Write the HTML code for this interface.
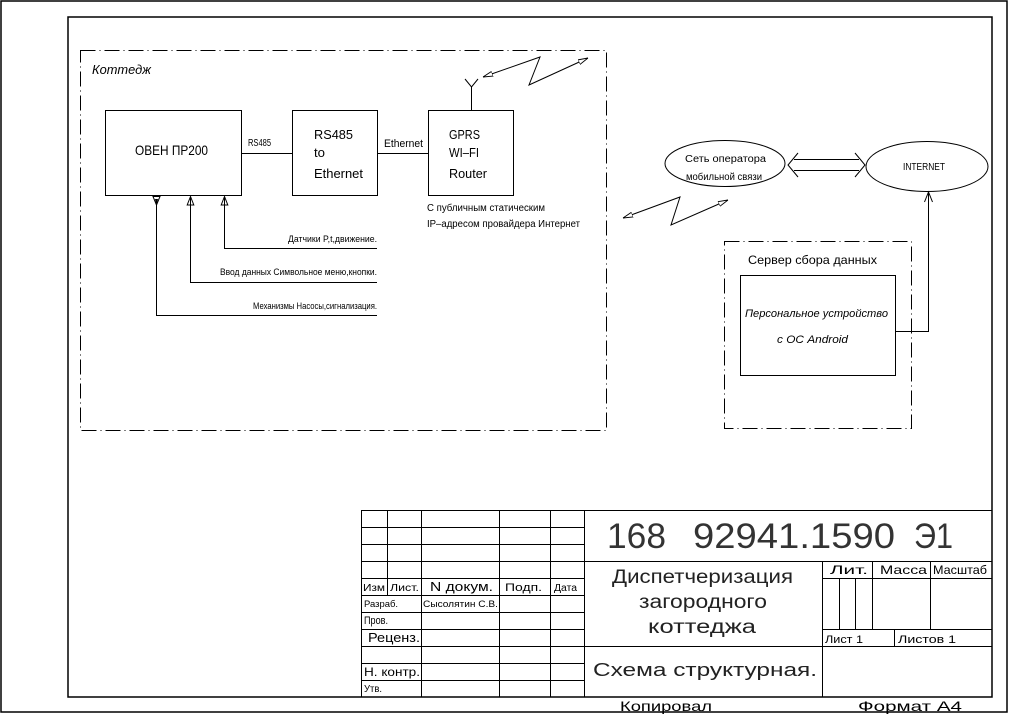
<!DOCTYPE html>
<html>
<head>
<meta charset="utf-8">
<style>
html,body{margin:0;padding:0;background:#fff;}
svg{display:block;}
text{font-family:"Liberation Sans","Noto Sans CJK SC",sans-serif;fill:#000;}
</style>
</head>
<body>
<svg width="1009" height="714" viewBox="0 0 1009 714" xmlns="http://www.w3.org/2000/svg">
<defs>
<marker id="a" viewBox="0 0 10 6" refX="10" refY="3" markerWidth="10" markerHeight="6" markerUnits="userSpaceOnUse" orient="auto-start-reverse">
<path d="M0,0.5 L10,3 L0,5.5 Z" fill="#fff" stroke="#000" stroke-width="0.9"/>
</marker>
</defs>
<rect width="1009" height="714" fill="#fff"/>

<!-- frames -->
<rect x="1" y="1" width="1006" height="711" fill="none" stroke="#000" stroke-width="1.5"/>
<rect x="68" y="17" width="924" height="680" fill="none" stroke="#000" stroke-width="1.5"/>

<!-- dash-dot boxes -->
<g fill="none" stroke="#000" stroke-width="1" stroke-dasharray="15 4 1 4">
<rect x="80.5" y="50.5" width="526" height="380"/>
<rect x="724.5" y="241.5" width="187" height="187"/>
</g>

<text x="92" y="74" font-size="13" font-style="italic" textLength="59" lengthAdjust="spacingAndGlyphs">Коттедж</text>

<!-- boxes -->
<g fill="none" stroke="#000" stroke-width="1">
<rect x="105.5" y="110.5" width="136" height="85"/>
<rect x="292.5" y="110.5" width="85" height="85"/>
<rect x="428.5" y="110.5" width="85" height="85"/>
<rect x="740.5" y="275.5" width="155" height="100"/>
<line x1="241" y1="153.5" x2="292" y2="153.5"/>
<line x1="377" y1="153.5" x2="428" y2="153.5"/>
<!-- antenna -->
<line x1="471.5" y1="110" x2="471.5" y2="87"/>
<polyline points="465,79 471.5,87 478,79"/>
<!-- zigzags -->
<polyline points="483,77 540,57 529,85 588,58" marker-start="url(#a)" marker-end="url(#a)"/>
<polyline points="623,218 680,197 671,225 728,200" marker-start="url(#a)" marker-end="url(#a)"/>
<!-- ellipses -->
<ellipse cx="725" cy="163.5" rx="60" ry="23"/>
<ellipse cx="927" cy="166.5" rx="61" ry="25"/>
<!-- double arrow -->
<line x1="794" y1="159.5" x2="859" y2="159.5"/>
<line x1="794" y1="170.5" x2="859" y2="170.5"/>
<polyline points="798,153 788,165 798,177"/>
<polyline points="855,153 865,165 855,177"/>
<!-- server to internet -->
<polyline points="896,331.5 928.5,331.5 928.5,192"/>
<polyline points="924.5,202 928.5,192 932.5,202"/>
<!-- inputs/outputs of OVEN -->
<polyline points="224.5,197 224.5,248.5 377,248.5"/>
<polyline points="190.5,197 190.5,282.5 377,282.5"/>
<polyline points="156.5,197 156.5,315.5 377,315.5"/>
</g>
<g fill="#fff" stroke="#000" stroke-width="1">
<path d="M224.5,196.5 L221.2,205 L227.8,205 Z"/>
<path d="M190.5,196.5 L187.2,205 L193.8,205 Z"/>
<path d="M153,196.5 L160,196.5 L156.5,205 Z"/>
</g>
<line x1="224.5" y1="197" x2="224.5" y2="205" stroke="#000"/>
<line x1="190.5" y1="197" x2="190.5" y2="205" stroke="#000"/>
<path d="M155,199 L158,199 L156.5,205 Z" fill="#000"/>

<!-- box texts -->
<text x="135" y="155" font-size="14" textLength="73" lengthAdjust="spacingAndGlyphs">ОВЕН ПР200</text>
<text x="314" y="139" font-size="13" textLength="39" lengthAdjust="spacingAndGlyphs">RS485</text>
<text x="314" y="157" font-size="13" textLength="11" lengthAdjust="spacingAndGlyphs">to</text>
<text x="314" y="178" font-size="13" textLength="49" lengthAdjust="spacingAndGlyphs">Ethernet</text>
<text x="449" y="139" font-size="13" textLength="31" lengthAdjust="spacingAndGlyphs">GPRS</text>
<text x="449" y="157" font-size="13" textLength="30" lengthAdjust="spacingAndGlyphs">WI–FI</text>
<text x="449" y="178" font-size="13" textLength="38" lengthAdjust="spacingAndGlyphs">Router</text>
<text x="248" y="146" font-size="10" textLength="23" lengthAdjust="spacingAndGlyphs">RS485</text>
<text x="384" y="147" font-size="11" textLength="39" lengthAdjust="spacingAndGlyphs">Ethernet</text>
<text x="427" y="211" font-size="10" textLength="118" lengthAdjust="spacingAndGlyphs">С публичным статическим</text>
<text x="427" y="227" font-size="10" textLength="153" lengthAdjust="spacingAndGlyphs">IP–адресом провайдера Интернет</text>

<text x="288" y="242" font-size="9" textLength="89" lengthAdjust="spacingAndGlyphs">Датчики  P,t,движение.</text>
<text x="220" y="275" font-size="9" textLength="157" lengthAdjust="spacingAndGlyphs">Ввод данных  Символьное меню,кнопки.</text>
<text x="253" y="309" font-size="9" textLength="124" lengthAdjust="spacingAndGlyphs">Механизмы  Насосы,сигнализация.</text>

<text x="685" y="162" font-size="10" textLength="81" lengthAdjust="spacingAndGlyphs">Сеть оператора</text>
<text x="686" y="180" font-size="10" textLength="76" lengthAdjust="spacingAndGlyphs">мобильной связи</text>
<text x="903" y="170" font-size="10" textLength="42" lengthAdjust="spacingAndGlyphs">INTERNET</text>

<text x="748" y="264" font-size="12" textLength="129" lengthAdjust="spacingAndGlyphs">Сервер сбора данных</text>
<text x="745" y="317" font-size="11" font-style="italic" textLength="143" lengthAdjust="spacingAndGlyphs">Персональное устройство</text>
<text x="777" y="343" font-size="11" font-style="italic" textLength="71" lengthAdjust="spacingAndGlyphs">с ОС Android</text>

<!-- title block -->
<g fill="none" stroke="#000" stroke-width="1">
<line x1="361" y1="510.5" x2="992" y2="510.5"/>
<line x1="361.5" y1="510" x2="361.5" y2="697"/>
<line x1="361" y1="527.5" x2="584" y2="527.5"/>
<line x1="361" y1="544.5" x2="584" y2="544.5"/>
<line x1="361" y1="561.5" x2="992" y2="561.5"/>
<line x1="361" y1="578.5" x2="584" y2="578.5"/>
<line x1="361" y1="595.5" x2="584" y2="595.5"/>
<line x1="361" y1="612.5" x2="584" y2="612.5"/>
<line x1="361" y1="629.5" x2="584" y2="629.5"/>
<line x1="361" y1="646.5" x2="992" y2="646.5"/>
<line x1="361" y1="663.5" x2="584" y2="663.5"/>
<line x1="361" y1="680.5" x2="584" y2="680.5"/>
<line x1="387.5" y1="510" x2="387.5" y2="595"/>
<line x1="421.5" y1="510" x2="421.5" y2="697"/>
<line x1="499.5" y1="510" x2="499.5" y2="697"/>
<line x1="550.5" y1="510" x2="550.5" y2="697"/>
<line x1="584.5" y1="510" x2="584.5" y2="697"/>
<line x1="822.5" y1="561" x2="822.5" y2="697"/>
<line x1="822" y1="578.5" x2="992" y2="578.5"/>
<line x1="822" y1="629.5" x2="992" y2="629.5"/>
<line x1="839.5" y1="578" x2="839.5" y2="629"/>
<line x1="855.5" y1="578" x2="855.5" y2="629"/>
<line x1="872.5" y1="561" x2="872.5" y2="629"/>
<line x1="930.5" y1="561" x2="930.5" y2="629"/>
<line x1="894.5" y1="629" x2="894.5" y2="646"/>
</g>

<text x="363" y="591" font-size="10" textLength="22" lengthAdjust="spacingAndGlyphs">Изм</text>
<text x="390" y="591" font-size="10" textLength="29" lengthAdjust="spacingAndGlyphs">Лист.</text>
<text x="430" y="591" font-size="13" textLength="63" lengthAdjust="spacingAndGlyphs">N докум.</text>
<text x="505" y="591" font-size="11" textLength="37" lengthAdjust="spacingAndGlyphs">Подп.</text>
<text x="554" y="591" font-size="10" textLength="23" lengthAdjust="spacingAndGlyphs">Дата</text>
<text x="364" y="607" font-size="9" textLength="34" lengthAdjust="spacingAndGlyphs">Разраб.</text>
<text x="423" y="607" font-size="9" textLength="75" lengthAdjust="spacingAndGlyphs">Сысолятин С.В.</text>
<text x="364" y="624" font-size="11" textLength="24" lengthAdjust="spacingAndGlyphs">Пров.</text>
<text x="368" y="642" font-size="13" textLength="52" lengthAdjust="spacingAndGlyphs">Реценз.</text>
<text x="364" y="676" font-size="12" textLength="56" lengthAdjust="spacingAndGlyphs">Н. контр.</text>
<text x="364" y="692" font-size="10" textLength="18" lengthAdjust="spacingAndGlyphs">Утв.</text>

<g style="fill:#333">
<text x="607" y="548" font-size="35" textLength="59" lengthAdjust="spacingAndGlyphs" style="fill:#333">168</text>
<text x="693" y="548" font-size="35" textLength="202" lengthAdjust="spacingAndGlyphs" style="fill:#333">92941.1590</text>
<text x="914" y="548" font-size="35" textLength="39" lengthAdjust="spacingAndGlyphs" style="fill:#333">Э1</text>
</g>

<text x="612" y="583" font-size="19" textLength="181" lengthAdjust="spacingAndGlyphs" style="fill:#222">Диспетчеризация</text>
<text x="639" y="608" font-size="19" textLength="128" lengthAdjust="spacingAndGlyphs" style="fill:#222">загородного</text>
<text x="648" y="633" font-size="19" textLength="108" lengthAdjust="spacingAndGlyphs" style="fill:#222">коттеджа</text>
<text x="593" y="676" font-size="18" textLength="224" lengthAdjust="spacingAndGlyphs" style="fill:#222">Схема  структурная.</text>

<text x="830" y="574" font-size="12" textLength="38" lengthAdjust="spacingAndGlyphs">Лит.</text>
<text x="880" y="574" font-size="12" textLength="47" lengthAdjust="spacingAndGlyphs">Масса</text>
<text x="933" y="574" font-size="12" textLength="54" lengthAdjust="spacingAndGlyphs">Масштаб</text>
<text x="825" y="643" font-size="11" textLength="38" lengthAdjust="spacingAndGlyphs">Лист 1</text>
<text x="898" y="643" font-size="11" textLength="58" lengthAdjust="spacingAndGlyphs">Листов 1</text>

<text x="620" y="711" font-size="14" textLength="92" lengthAdjust="spacingAndGlyphs">Копировал</text>
<text x="858" y="711" font-size="14" textLength="104" lengthAdjust="spacingAndGlyphs">Формат А4</text>
</svg>
</body>
</html>
